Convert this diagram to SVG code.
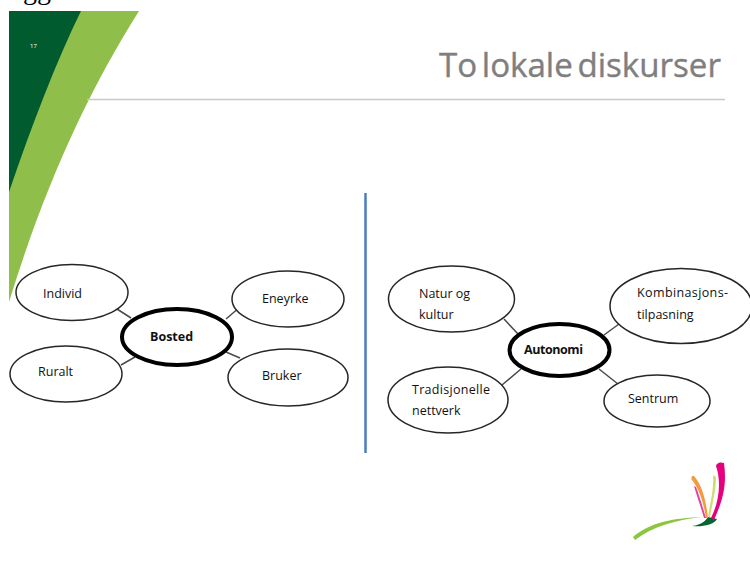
<svg xmlns="http://www.w3.org/2000/svg" width="750" height="567" viewBox="0 0 750 567">
<style>
.n{fill:#fff;stroke:#262626;stroke-width:1.5}
.h{fill:#fff;stroke:#000;stroke-width:4}
.c{stroke:#4a4a4a;stroke-width:1.5;fill:none}
text{font-family:"Open Sans","Liberation Sans",sans-serif;font-size:12.5px;fill:#111}
.b{font-weight:700}
</style>
<defs><filter id="s" x="-10%" y="-10%" width="120%" height="120%"><feGaussianBlur stdDeviation="0.5"/></filter></defs>
<rect width="750" height="567" fill="#fff"/>
<text x="23" y="-1" style="font-family:'Liberation Serif',serif;font-size:28px;fill:#000">gg</text>
<g id="background">
<path d="M9 11H139C88 92 45 185 9 302Z" fill="#8fbf4a"/>
<path d="M9 11H81C56 62 33 122 9 192Z" fill="#005c2e"/>
<text x="30" y="48" style="font-size:6px;fill:#fff">17</text>
<path d="M87 99.500H725" stroke="#c8c8c8" stroke-width="1.500"/>
<text x="439" y="77" textLength="282" lengthAdjust="spacingAndGlyphs" style="font-size:33.500px;fill:#7f7f7f;stroke:#7f7f7f;stroke-width:.4;word-spacing:-4px">To lokale diskurser</text>
<path d="M365.500 193V453" stroke="#4a7ebb" stroke-width="2.500"/>
</g>
<g id="connectors">
<path class="c" d="M117 309L131 318M226 319L240 307M121 365L135 357M226 352L240 358"/>
<path class="c" d="M504 319L518 334M604 335L619 324M502 385L521 369M599 369L618 384"/>
</g>
<g id="individ"><ellipse class="n" cx="72" cy="292.500" rx="56" ry="28"/><text x="43" y="298">Individ</text></g>
<g id="eneyrke"><ellipse class="n" cx="288" cy="299" rx="56" ry="28"/><text x="262" y="303">Eneyrke</text></g>
<g id="ruralt"><ellipse class="n" cx="66" cy="374" rx="56" ry="28"/><text x="38" y="376">Ruralt</text></g>
<g id="bruker"><ellipse class="n" cx="288" cy="377.500" rx="60" ry="28.500"/><text x="262" y="380">Bruker</text></g>
<g id="bosted"><ellipse class="h" cx="177" cy="337" rx="55" ry="28"/><text class="b" x="150" y="341">Bosted</text></g>
<g id="natur"><ellipse class="n" cx="451.500" cy="299" rx="63" ry="33"/><text x="419" y="298">Natur og</text><text x="419" y="319">kultur</text></g>
<g id="kombinasjon"><ellipse class="n" cx="681" cy="306" rx="71" ry="37.500"/><text x="637" y="297" textLength="91">Kombinasjons-</text><text x="637" y="319">tilpasning</text></g>
<g id="autonomi"><ellipse class="h" cx="559.500" cy="350" rx="50" ry="26"/><text class="b" x="524" y="354" textLength="59">Autonomi</text></g>
<g id="tradisjonelle"><ellipse class="n" cx="448" cy="400" rx="60" ry="33"/><text x="412" y="394" textLength="78">Tradisjonelle</text><text x="412" y="415">nettverk</text></g>
<g id="sentrum"><ellipse class="n" cx="657" cy="401" rx="53" ry="26"/><text x="628" y="403">Sentrum</text></g>
<g id="logo" filter="url(#s)">
<path d="M633 537C650 522 675 518 702 517C675 520 652 527 635 540Z" fill="#8cc63f"/>
<path d="M692 526C702 525 706 520 708 517L717 519C714 525 702 527 692 526Z" fill="#006633"/>
<path d="M714 520C723 500 727 485 724 463C718 461 716 465 716 466C721 480 720 500 711 518Z" fill="#e6007e"/>
<path d="M710 517C713 500 716 490 716 477L713 475C714 490 710 505 708 516Z" fill="#cfdc70"/>
<path d="M708 518C706 500 702 485 694 476C691 475 691 480 692 480C700 490 704 505 706 518Z" fill="#f39a3e"/>
<path d="M706 518C702 505 699 495 696 487L694 486C697 497 701 507 704 518Z" fill="#e6409a"/>
</g>
</svg>
